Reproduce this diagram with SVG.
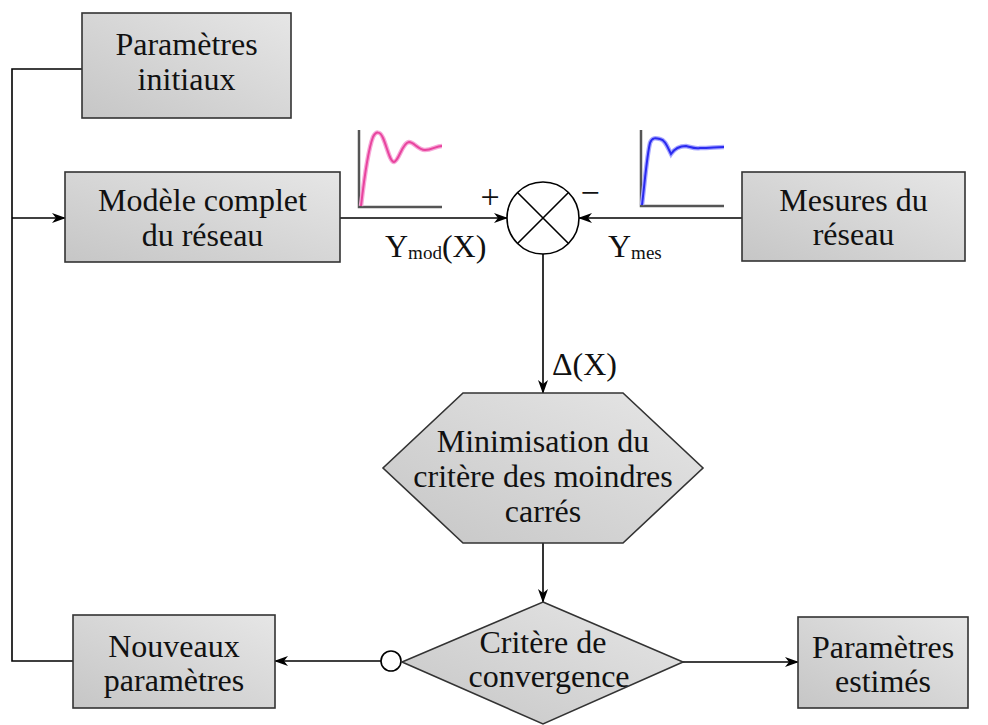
<svg xmlns="http://www.w3.org/2000/svg" width="988" height="725" viewBox="0 0 988 725">
  <defs>
    <linearGradient id="boxFill" x1="0" y1="1" x2="1" y2="0">
      <stop offset="0" stop-color="#c6c6c6"/>
      <stop offset="1" stop-color="#e6e6e6"/>
    </linearGradient>
    <marker id="arrow" viewBox="0 0 14 10" refX="13" refY="5" markerWidth="14" markerHeight="10" markerUnits="userSpaceOnUse" orient="auto">
      <path d="M0,0 L14,5 L0,10 L4,5 Z" fill="#000"/>
    </marker>
    <filter id="soft" x="-10%" y="-10%" width="120%" height="120%">
      <feGaussianBlur stdDeviation="0.6"/>
    </filter>
  </defs>
  <style>
    .box { fill: url(#boxFill); stroke: #333; stroke-width: 1.6; }
    .lbl { font-family: "Liberation Serif", "Times New Roman", serif; font-size: 32px; fill: #111; text-anchor: middle; }
    .sym { font-family: "Liberation Serif", "Times New Roman", serif; fill: #111; }
    .wire { fill: none; stroke: #000; stroke-width: 1.6; }
    .axis { fill: none; stroke: #555; stroke-width: 2.5; }
  </style>

  <rect width="988" height="725" fill="#fff"/>

  <!-- connectors -->
  <g id="connectors">
    <path class="wire" d="M82,69 H12 V661 H73"/>
    <path class="wire" d="M12,218 H65" marker-end="url(#arrow)"/>
    <path class="wire" d="M340,218 H507" marker-end="url(#arrow)"/>
    <path class="wire" d="M742,218 H579" marker-end="url(#arrow)"/>
    <path class="wire" d="M543,254 V393" marker-end="url(#arrow)"/>
    <path class="wire" d="M543,543 V602" marker-end="url(#arrow)"/>
    <path class="wire" d="M381,661 H275" marker-end="url(#arrow)"/>
    <path class="wire" d="M683,662 H798" marker-end="url(#arrow)"/>
    <circle cx="391" cy="661" r="10" fill="#fff" stroke="#000" stroke-width="1.6"/>
    <text class="sym" x="385" y="257" font-size="32">Y<tspan font-size="19" dy="2">mod</tspan><tspan font-size="32" dy="-2">(X)</tspan></text>
    <text class="sym" x="608" y="257" font-size="32">Y<tspan font-size="19" dy="2">mes</tspan></text>
    <text class="sym" x="552" y="375" font-size="32">Δ(X)</text>
    <text class="sym" x="490" y="208" font-size="34" text-anchor="middle">+</text>
    <text class="sym" x="590" y="204" font-size="34" text-anchor="middle">−</text>
  </g>

  <!-- response sketches -->
  <g id="plot-model">
    <path class="axis" d="M359,130 V207 H442"/>
    <path d="M361,206 C364,180 368,150 373,137 C376,131 380,131 383,138 C387,147 390,162 394,162 C399,161 402,143 409,142 C414,142 418,150 425,150 C432,150 436,146 442,146" fill="none" stroke="#f7a8d8" stroke-width="4.5" filter="url(#soft)"/>
    <path d="M361,206 C364,180 368,150 373,137 C376,131 380,131 383,138 C387,147 390,162 394,162 C399,161 402,143 409,142 C414,142 418,150 425,150 C432,150 436,146 442,146" fill="none" stroke="#e8449e" stroke-width="2"/>
  </g>
  <g id="plot-measure">
    <path class="axis" d="M641,130 V206 H724"/>
    <path d="M642,205 C645,180 647,155 650,143 C652,137 656,138 660,139 C665,140 667,146 671,154 C675,148 680,146 686,146 C691,147 694,149 700,148 C710,148 716,147 724,147" fill="none" stroke="#a8a8ff" stroke-width="4.5" filter="url(#soft)"/>
    <path d="M642,205 C645,180 647,155 650,143 C652,137 656,138 660,139 C665,140 667,146 671,154 C675,148 680,146 686,146 C691,147 694,149 700,148 C710,148 716,147 724,147" fill="none" stroke="#2a2af0" stroke-width="2"/>
  </g>

  <!-- summing junction -->
  <g id="sum">
    <circle cx="543" cy="218" r="36" fill="#fff" stroke="#000" stroke-width="1.6"/>
    <path d="M517.5,192.5 L568.5,243.5 M568.5,192.5 L517.5,243.5" stroke="#000" stroke-width="1.6"/>
  </g>

  <g id="params-initial">
    <rect class="box" x="82" y="13" width="209" height="105"/>
    <text class="lbl" x="186.5" y="55">Paramètres</text>
    <text class="lbl" x="186.5" y="90">initiaux</text>
  </g>

  <g id="model">
    <rect class="box" x="65" y="172" width="275" height="90"/>
    <text class="lbl" x="202.5" y="211">Modèle complet</text>
    <text class="lbl" x="202.5" y="246">du réseau</text>
  </g>

  <g id="measures">
    <rect class="box" x="742" y="172" width="223" height="89"/>
    <text class="lbl" x="853.5" y="211">Mesures du</text>
    <text class="lbl" x="853.5" y="245">réseau</text>
  </g>

  <g id="minimisation">
    <polygon class="box" points="463,393 623,393 703,468 623,543 463,543 383,468"/>
    <text class="lbl" x="543" y="452">Minimisation du</text>
    <text class="lbl" x="543" y="487">critère des moindres</text>
    <text class="lbl" x="543" y="522">carrés</text>
  </g>

  <g id="convergence">
    <polygon class="box" points="543,602 683,662 543,724 402,662"/>
    <text class="lbl" x="543" y="653">Critère de</text>
    <text class="lbl" x="549" y="687">convergence</text>
  </g>

  <g id="params-new">
    <rect class="box" x="73" y="615" width="202" height="93"/>
    <text class="lbl" x="174" y="657">Nouveaux</text>
    <text class="lbl" x="174" y="691">paramètres</text>
  </g>

  <g id="params-estimated">
    <rect class="box" x="798" y="617" width="170" height="91"/>
    <text class="lbl" x="883" y="658">Paramètres</text>
    <text class="lbl" x="883" y="692">estimés</text>
  </g>
</svg>
